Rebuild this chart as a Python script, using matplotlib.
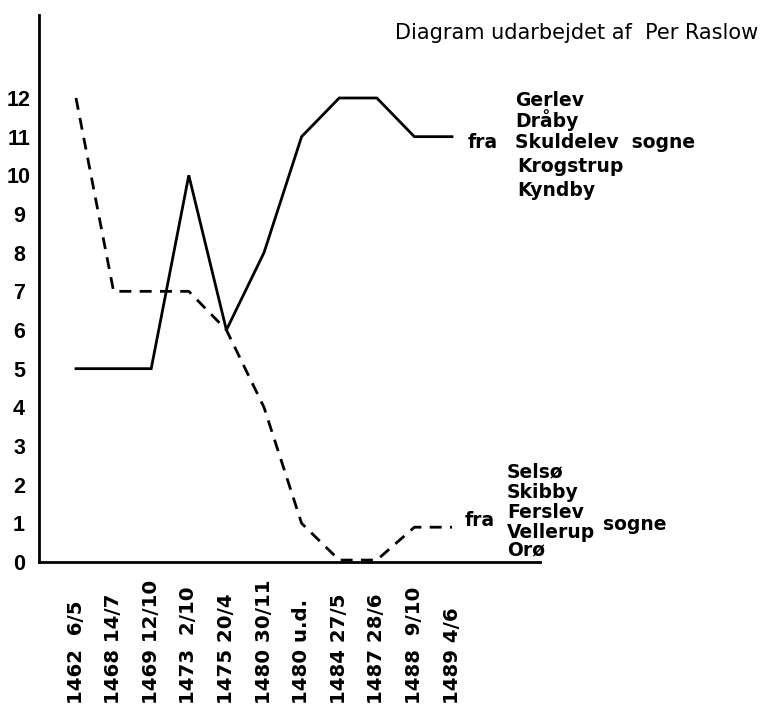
import matplotlib
matplotlib.use("Agg")
import matplotlib.pyplot as plt
from matplotlib.transforms import blended_transform_factory

# ---- data ----
dates = ["1462  6/5", "1468 14/7", "1469 12/10", "1473  2/10", "1475 20/4",
         "1480 30/11", "1480 u.d.", "1484 27/5", "1487 28/6", "1488  9/10",
         "1489 4/6"]
skuldelev = [5, 5, 5, 10, 6, 8, 11, 12, 12, 11, 11]      # solid line
selsoe = [12, 7, 7, 7, 6, 4, 1, 0.05, 0.05, 0.9, 0.9]      # dashed line
yticks = list(range(0, 13))
upper_parishes = ["Gerlev", "Dråby", "Skuldelev  sogne", "Krogstrup", "Kyndby"]
lower_parishes = ["Selsø", "Skibby", "Ferslev", "Vellerup", "Orø"]
credit = "Diagram udarbejdet af  Per Raslow"

W, H = 773, 710
fig = plt.figure(figsize=(W / 100, H / 100), dpi=100)
fig.patch.set_facecolor("white")

def fx(px):
    return px / W

def fy(py):
    return 1 - py / H

ax = fig.add_axes([fx(39), fy(562), fx(540) - fx(39), fy(15) - fy(562)])
FONT = "Liberation Sans"
WIDE = "DejaVu Sans"

x = list(range(len(dates)))
ax.plot(x, skuldelev, color="black", lw=2.0, solid_joinstyle="miter")
ax.plot(x, selsoe, color="black", lw=2.0, linestyle=(0, (4.3, 3.0)))

step = (452 - 76) / 10
ax.set_xlim(-(76 - 39) / step, (540 - 76) / step)
ax.set_ylim(0, (562 - 15) / ((562 - 98) / 12))

for s in ["top", "right"]:
    ax.spines[s].set_visible(False)
for s in ["left", "bottom"]:
    ax.spines[s].set_linewidth(2.0)

ax.set_yticks(yticks)
ax.set_yticklabels([str(v) for v in yticks], fontfamily=FONT,
                   fontweight="bold", fontsize=15.5, ha="center")
ax.tick_params(axis="y", length=0, pad=14.4)
ax.set_xticks([])

trans = blended_transform_factory(ax.transData, fig.transFigure)
for i, lab in enumerate(dates):
    ax.text(i, fy(704), lab, transform=trans, rotation=90, ha="center",
            va="bottom", fontsize=14.2, fontfamily=WIDE, fontweight="bold")

# credit line
fig.text(fx(395), fy(33), credit, fontsize=15, fontfamily=WIDE,
         ha="left", va="center")

# upper parish block
ups_y = [100, 120, 143, 167, 190]
ups_x = [515, 515, 515, 517, 517]
for t, xx, yy in zip(upper_parishes, ups_x, ups_y):
    fig.text(fx(xx), fy(yy), t, fontsize=13.5, fontfamily=WIDE,
             fontweight="bold", ha="left", va="center")
fig.text(fx(468), fy(143), "fra", fontsize=13.5, fontfamily=WIDE,
         fontweight="bold", ha="left", va="center")

# lower parish block
low_y = [472, 492, 512, 532, 550]
for t, yy in zip(lower_parishes, low_y):
    fig.text(fx(507), fy(yy), t, fontsize=13.5, fontfamily=WIDE,
             fontweight="bold", ha="left", va="center")
fig.text(fx(465), fy(520), "fra", fontsize=13.5, fontfamily=WIDE,
         fontweight="bold", ha="left", va="center")
fig.text(fx(603), fy(524), "sogne", fontsize=13.5, fontfamily=WIDE,
         fontweight="bold", ha="left", va="center")

fig.savefig("out.png", dpi=100, facecolor="white")
